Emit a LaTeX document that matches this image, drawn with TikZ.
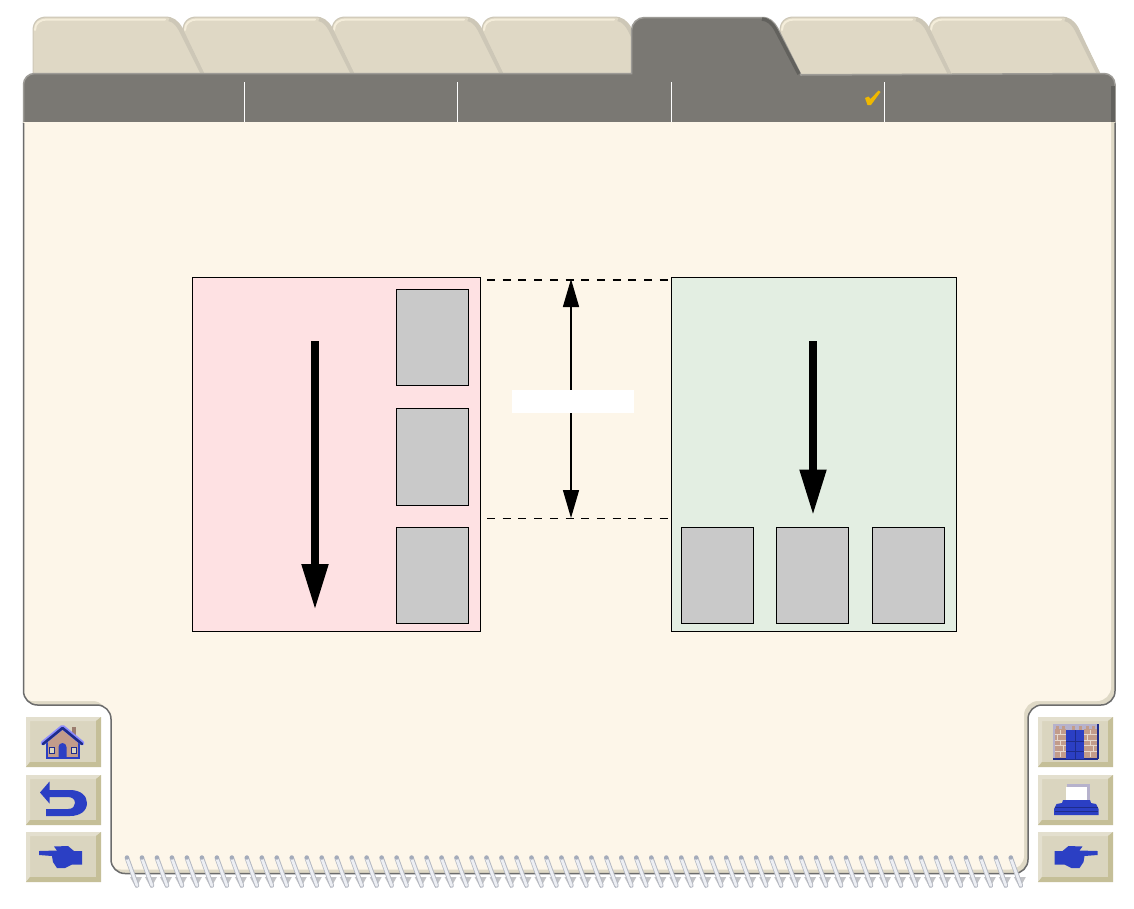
\documentclass[tikz,border=0pt]{standalone}
\usetikzlibrary{arrows.meta}
\definecolor{cream}{HTML}{FDF6E9}
\definecolor{creamdark}{HTML}{DFD9C6}
\definecolor{tabface}{HTML}{DFD8C5}
\definecolor{tabedge}{HTML}{CDC7B7}
\definecolor{tablight}{HTML}{F4EDDA}
\definecolor{barface}{HTML}{7A7873}
\definecolor{barlight}{HTML}{9D9B96}
\definecolor{bardark}{HTML}{62615D}
\definecolor{panelpink}{HTML}{FEE1E3}
\definecolor{panelgreen}{HTML}{E3EEE2}
\definecolor{sheetgrey}{HTML}{C9C9C9}
\definecolor{btnface}{HTML}{DAD5BF}
\definecolor{btnlight}{HTML}{E3DFCE}
\definecolor{btndark}{HTML}{C5BF98}
\definecolor{iconblue}{HTML}{2B3FC4}
\definecolor{icondark}{HTML}{1E2C8C}
\definecolor{brick}{HTML}{C29C8A}
\definecolor{mortar}{HTML}{E6D8CC}
\definecolor{lavender}{HTML}{B6B2CC}
\definecolor{ringedge}{HTML}{B4B8C2}
\definecolor{ringface}{HTML}{ECEEF3}
\definecolor{ringhead}{HTML}{A4ABBA}
\definecolor{ringshade}{HTML}{C2C3C6}
\definecolor{tick}{HTML}{EFB800}
\newcommand{\bodypath}{(23.5,122) [rounded corners=14pt] -- (23.5,705) -- (111,705) -- (111,873.5) -- (1028,873.5) -- (1028,705) -- (1115,705) [sharp corners] -- (1115,122) -- cycle}
\tikzset{
  sheet/.style={draw=black, fill=sheetgrey, line width=1pt, minimum width=72pt, minimum height=96pt, inner sep=0pt},
  panel/.style={draw=black, line width=1pt, minimum height=354pt, inner sep=0pt},
  feedarrow/.style={line width=8pt, -{Triangle[width=25pt,length=46pt]}},
  dimarrow/.style={line width=1.5pt, {Triangle[width=16pt,length=28pt]}-{Triangle[width=16pt,length=28pt]}},
  dimguide/.style={dash pattern=on 8pt off 7.7pt},
  tabshape/.style={fill=tabface, draw=tabedge, line width=1pt}
}
\begin{document}
\begin{tikzpicture}[x=1pt,y=-1pt]
\useasboundingbox (0,0) rectangle (1134,908);
\fill[white] (0,0) rectangle (1134,908);
\foreach \tx in {929,780,482,332,183,33} {
  \draw[tabshape] (\tx,74) -- (\tx,31) .. controls (\tx,22) and (\tx+5,17) .. (\tx+14,17) -- (\tx+132,17) .. controls (\tx+140,17) and (\tx+145,21) .. (\tx+149,28) -- (\tx+171,74) -- cycle;
  \draw[tablight, line width=2pt, line cap=round] (\tx+2,30) .. controls (\tx+2,23) and (\tx+7,19.5) .. (\tx+14,19.5) -- (\tx+132,19.5);
  \draw[tabedge, line width=3.5pt] (\tx+136,19.5) .. controls (\tx+141,20.5) and (\tx+144,24) .. (\tx+147,29) -- (\tx+169,73);
}
\draw[barlight, fill=barface, line width=1.5pt] (23.5,123) [rounded corners=11pt] -- (23.5,73.5) [sharp corners] -- (631.5,73.5) [rounded corners=13pt] -- (631.5,17.5) [sharp corners] -- (762,17.5) .. controls (770,17.5) and (774,22) .. (778,29) -- (801,75) -- (1102,73.5) [rounded corners=11pt] -- (1115,73.5) [sharp corners] -- (1115,123) -- cycle;
\draw[bardark, line width=3.5pt] (762,19) .. controls (768,19.5) and (772,23) .. (776,30) -- (799,74);
\draw[bardark, line width=4pt] (1113,86) -- (1113,122);
\draw[gray!70, line width=1pt] (24,123) -- (1115,123);
\begin{scope}
\clip \bodypath;
\fill[creamdark] (0,120) rectangle (1134,908);
\begin{scope}[shift={(-4,-4)}]
\fill[cream] \bodypath;
\end{scope}
\fill[cream] (23,120) rectangle (1110,200);
\end{scope}
\draw[gray!85!black, line width=1.5pt] (23.5,123) [rounded corners=14pt] -- (23.5,705) -- (111,705) -- (111,873.5) -- (1028,873.5) -- (1028,705) -- (1115,705) [sharp corners] -- (1115,123);
\foreach \dx in {244,457,671,884} \draw[white, line width=1pt] (\dx.5,82) -- (\dx.5,122);
\fill[tick] (865,98) -- (868.5,96.5) -- (870.5,99) -- (878.5,90.5) -- (880.5,92) -- (871,105) -- (867.5,105) -- cycle;
\foreach \i in {0,...,59} {
  \pgfmathsetmacro{\rx}{127+14.98*\i}
  \fill[ringshade] (\rx+3,877) -- (\rx+15,877) -- (\rx+9,888) -- cycle;
  \draw[ringedge, line width=4.5pt, line cap=round] (\rx,858) -- (\rx+10,885.5);
  \draw[ringface, line width=2.8pt, line cap=round] (\rx,858.5) -- (\rx+10,885.5);
  \fill[ringhead] (\rx,857.5) circle (2.2pt);
}
\foreach \bx in {26,1038} \foreach \by/\bh in {717/50,775/50,832/50} {
  \fill[btnface] (\bx,\by) rectangle (\bx+75,\by+\bh);
  \fill[btnlight] (\bx,\by) -- (\bx+75,\by) -- (\bx+70,\by+4) -- (\bx+4,\by+4) -- (\bx+4,\by+\bh-5) -- (\bx,\by+\bh) -- cycle;
  \fill[btndark] (\bx+75,\by) -- (\bx+75,\by+\bh) -- (\bx,\by+\bh) -- (\bx+4,\by+\bh-5) -- (\bx+70,\by+\bh-5) -- (\bx+70,\by+4) -- cycle;
}
\fill[brick!80!black] (72,727) rectangle (75.5,737);
\fill[brick] (47,742) -- (62.5,728) -- (79,742) -- (79,758) -- (47,758) -- cycle;
\draw[iconblue, line width=1.2pt] (47,742) -- (47,758) -- (79,758) -- (79,742);
\draw[blue!45!white, line width=4.5pt, line cap=round, line join=round] (43,743) -- (62.5,727) -- (82,743);
\draw[icondark, line width=2.6pt, line cap=round, line join=round] (43,744) -- (62.5,728) -- (82,744);
\fill[iconblue] (58.5,758) -- (58.5,747) arc (180:0:4pt) -- (66.5,758) -- cycle;
\draw[icondark, fill=btnface, line width=1pt] (49,747) rectangle (54,753);
\draw[icondark, fill=btnface, line width=1pt] (71.5,747) rectangle (76.5,753);
\fill[iconblue] (40,792.5) -- (49.5,781.5) -- (49.5,790) -- (70,790) .. controls (81,790) and (87,796) .. (87,803) .. controls (87,811) and (80,816) .. (70,816) -- (46,816) -- (46,809) -- (68,809) .. controls (73,809) and (75,806) .. (75,803) .. controls (75,799) and (72,797) .. (68,797) -- (49.5,797) -- (49.5,803.5) -- cycle;
\foreach \hs/\hx in {1/0,-1/1136.5} {
  \fill[iconblue, shift={(\hx,0)}, xscale=\hs] (39,851) -- (57,850.5) -- (54,846.5) -- (68,846) -- (74,851) -- (82,851) -- (82,864.5) -- (72,864.5) -- (65,868) -- (57,868) -- (53,862) -- (52,856) -- (39,855) -- cycle;
}
\fill[lavender] (1053,724) rectangle (1098,759);
\fill[brick] (1054.5,729) rectangle (1066,758); \fill[brick] (1084,729) rectangle (1096.5,758);
\foreach \bk in {1056,1062,1072,1079,1086,1092} \fill[brick] (\bk,726) rectangle (\bk+3,730);
\foreach \ry in {734.5,740,745.5,751} { \draw[mortar, line width=0.9pt] (1054.5,\ry) -- (1066,\ry); \draw[mortar, line width=0.9pt] (1084,\ry) -- (1096.5,\ry); }
\foreach \vx/\vy in {1060/729.5,1060/740.5,1060/751.5,1090/729.5,1090/740.5,1090/751.5} \draw[mortar, line width=0.9pt] (\vx,\vy) -- (\vx,\vy+5);
\foreach \vx/\vy in {1057/735,1063/746,1087/735,1093/746} \draw[mortar, line width=0.9pt] (\vx,\vy) -- (\vx,\vy+5);
\fill[icondark] (1096.5,724) rectangle (1098.5,759); \fill[icondark] (1053,758) rectangle (1098,759.5);
\fill[iconblue] (1066,730) rectangle (1084,759);
\draw[icondark, line width=0.9pt] (1066,741) -- (1084,741) (1066,751) -- (1084,751) (1075,730) -- (1075,759);
\fill[lavender] (1067,784) rectangle (1090,801);
\fill[white] (1066,786.5) rectangle (1087,801);
\fill[iconblue] (1063,800) -- (1090,800) -- (1091,803) -- (1096,804) -- (1098.5,809) -- (1098.5,815) -- (1054,815) -- (1054,809) -- (1056.5,804) -- (1062,803) -- cycle;
\draw[icondark, line width=0.9pt] (1055,807.5) -- (1098,807.5) (1055,811) -- (1098,811);
\node[panel, fill=panelpink, minimum width=288pt] (panelrotated) at (336.5,454.5) {};
\node[panel, fill=panelgreen, minimum width=285pt] (panelstraight) at (814,454.5) {};
\foreach \sy/\sh/\sname in {337.5/96/a,457/97/b,575.5/96/c} \node[sheet, minimum height=\sh pt] (rotated\sname) at (432.5,\sy) {};
\foreach \sx/\sname in {717.5/a,812.5/b,908.5/c} \node[sheet] (straight\sname) at (\sx,575.5) {};
\coordinate (rotatedtop) at (315,341); \coordinate (rotatedtip) at (315,610);
\coordinate (straighttop) at (813,341); \coordinate (straighttip) at (813,515.5);
\draw[feedarrow] (rotatedtop) -- (rotatedtip);
\draw[feedarrow] (straighttop) -- (straighttip);
\coordinate (guidetopa) at (487,280); \coordinate (guidetopb) at (668,280);
\coordinate (guidelowa) at (487,518.5); \coordinate (guidelowb) at (668,518.5);
\draw[dimguide, line width=2pt] (guidetopa) -- (guidetopb);
\draw[dimguide, line width=1pt] (guidelowa) -- (guidelowb);
\coordinate (dimtop) at (571,279); \coordinate (dimlow) at (571,518);
\draw[dimarrow] (dimtop) -- (dimlow);
\node[fill=white, minimum width=122pt, minimum height=23pt, inner sep=0pt] (dimlabel) at (573,401.5) {};
\end{tikzpicture}
\end{document}
